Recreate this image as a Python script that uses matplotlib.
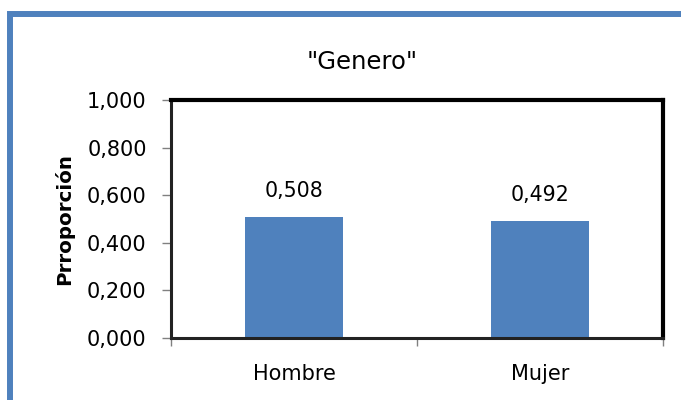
import matplotlib
matplotlib.use('Agg')
import matplotlib.pyplot as plt
from matplotlib.patches import Rectangle
from matplotlib.ticker import FuncFormatter, FixedLocator

categorias = ['Hombre', 'Mujer']
proporcion = [0.508, 0.492]
titulo = '"Genero"'
etiqueta_y = 'Prroporción'

plt.rcParams['font.family'] = ['DejaVu Sans']

fig = plt.figure(figsize=(6.81, 4.0), dpi=100)
ax = fig.add_axes([171/681, 1 - 338/400, (663 - 171)/681, (338 - 100)/400])

x = list(range(len(categorias)))
barras = ax.bar(x, proporcion, width=0.4, color='#4F81BD', zorder=2)
for b, v in zip(barras, proporcion):
    ax.annotate(f'{v:.3f}'.replace('.', ','), (b.get_x() + b.get_width()/2, v),
                xytext=(0, 18.5), textcoords='offset points',
                ha='center', va='center', fontsize=14.8)

ax.set_xlim(-0.5, 1.5)
ax.set_ylim(0, 1)
ax.set_yticks([0, 0.2, 0.4, 0.6, 0.8, 1.0])
ax.yaxis.set_major_formatter(FuncFormatter(lambda v, p: f'{v:.3f}'.replace('.', ',')))
ax.set_xticks(x)
ax.set_xticklabels(categorias)
ax.xaxis.set_minor_locator(FixedLocator([-0.5, 0.5, 1.5]))
ax.tick_params(axis='x', which='major', length=0, pad=19, labelsize=15)
ax.tick_params(axis='x', which='minor', length=6, color='#808080', width=1)
ax.tick_params(axis='y', length=6.5, color='#808080', width=1, labelsize=15, pad=11)

for lado in ['top', 'right']:
    ax.spines[lado].set_linewidth(3)
    ax.spines[lado].set_color('black')
for lado in ['left', 'bottom']:
    ax.spines[lado].set_linewidth(2.2)
    ax.spines[lado].set_color('#222222')

fig.text(64/681, 1 - 219/400, etiqueta_y, rotation=90, ha='center', va='center',
         fontsize=14.3, fontweight='bold')
fig.text(362/681, 1 - 62/400, titulo, ha='center', va='center', fontsize=17.5)

# marco azul del gráfico
fig.patches.append(Rectangle((10/681, -0.1), 1.2, 1 - 14/400 + 0.1,
                             transform=fig.transFigure, fill=False,
                             edgecolor='#4F81BD', linewidth=4.3))

fig.savefig('out.png', dpi=100)
